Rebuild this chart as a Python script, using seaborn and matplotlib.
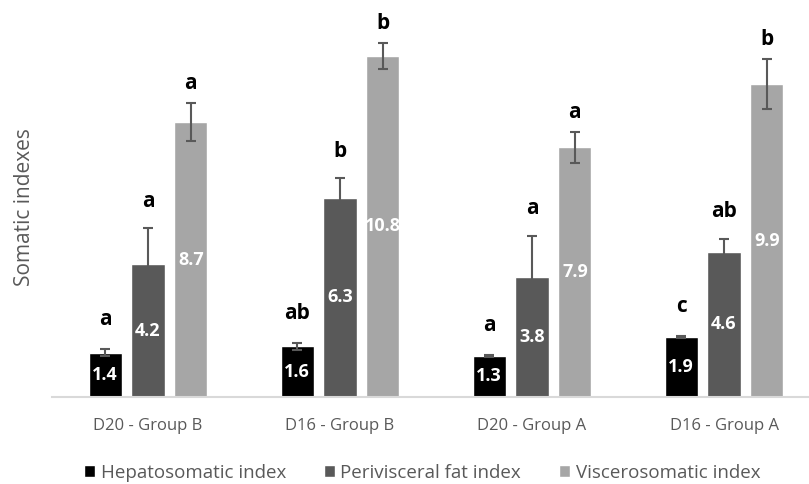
import numpy as np
import pandas as pd
import seaborn as sns
import matplotlib
matplotlib.use("Agg")
import matplotlib.pyplot as plt

# 数据
groups = ["D20 - Group B", "D16 - Group B", "D20 - Group A", "D16 - Group A"]
indexes = ["Hepatosomatic index", "Perivisceral fat index", "Viscerosomatic index"]
hepato = [1.4, 1.6, 1.3, 1.9]
perivisceral = [4.2, 6.3, 3.8, 4.6]
viscero = [8.7, 10.8, 7.9, 9.9]
hepato_err = [0.11, 0.1, 0.02, 0.02]
perivisceral_err = [1.14, 0.62, 1.31, 0.41]
viscero_err = [0.6, 0.41, 0.49, 0.8]
hepato_letters = ["a", "ab", "a", "c"]
perivisceral_letters = ["a", "b", "a", "ab"]
viscero_letters = ["a", "b", "a", "b"]

values = [hepato, perivisceral, viscero]
errors = [hepato_err, perivisceral_err, viscero_err]
letters = [hepato_letters, perivisceral_letters, viscero_letters]

rows = []
for name, vals in zip(indexes, values):
    for g, v in zip(groups, vals):
        rows.append({"group": g, "index": name, "value": v})
df = pd.DataFrame(rows)

sns.set_style("white")
plt.rcParams['font.family'] = ['Open Sans', 'DejaVu Sans']

fig = plt.figure(figsize=(8.09, 4.84), dpi=100)
ax = fig.add_axes([52 / 809, 87 / 484, 768 / 809, 392 / 484])

colors = ["#000000", "#595959", "#a6a6a6"]
sns.barplot(data=df, x="group", y="value", hue="index", hue_order=indexes,
            order=groups, palette=colors, width=0.67, gap=0.23,
            errorbar=None, ax=ax)

# 字母与误差线的间距 (points), 每个系列
letter_pad = [17.5, 15.5, 10]

# 误差线, 数值, 字母
for cont, errs, lets, pad in zip(ax.containers, errors, letters, letter_pad):
    xs = [p.get_x() + p.get_width() / 2 for p in cont]
    hs = [p.get_height() for p in cont]
    ax.errorbar(xs, hs, yerr=errs, fmt="none", ecolor="#595959",
                elinewidth=1.5, capsize=3.6, capthick=1.5, zorder=3)
    for x, h, e, l in zip(xs, hs, errs, lets):
        ax.text(x, h / 2, f"{h:.1f}", color="white", fontsize=13,
                fontweight="bold", ha="center", va="center", zorder=4)
        ax.annotate(l, (x, h + e), xytext=(0, pad), textcoords="offset points",
                    ha="center", va="baseline", fontsize=15, fontweight="bold",
                    color="black")

ax.set_ylim(0, 392 / 31.6)
ax.set_xlim(-0.5, 3.5)
ax.set_yticks([])
ax.set_xlabel("")
ax.set_ylabel("")
for s in ["left", "top", "right"]:
    ax.spines[s].set_visible(False)
ax.spines["bottom"].set_color("#d9d9d9")
ax.spines["bottom"].set_linewidth(1.5)
ax.tick_params(axis="x", length=0, pad=15, labelsize=12, labelcolor="#595959")

fig.text(25 / 809, 1 - 207 / 484, "Somatic indexes", rotation=90,
         ha="center", va="center", fontsize=15, color="#595959")

handles, labels = ax.get_legend_handles_labels()
ax.get_legend().remove()
fig.legend(handles, labels, loc="center", bbox_to_anchor=(422 / 809, 1 - 473 / 484),
           ncol=3, frameon=False, fontsize=13.5, labelcolor="#595959",
           handlelength=0.6, handleheight=0.6, handletextpad=0.3,
           columnspacing=2.0)

fig.savefig("out.png", dpi=100)
